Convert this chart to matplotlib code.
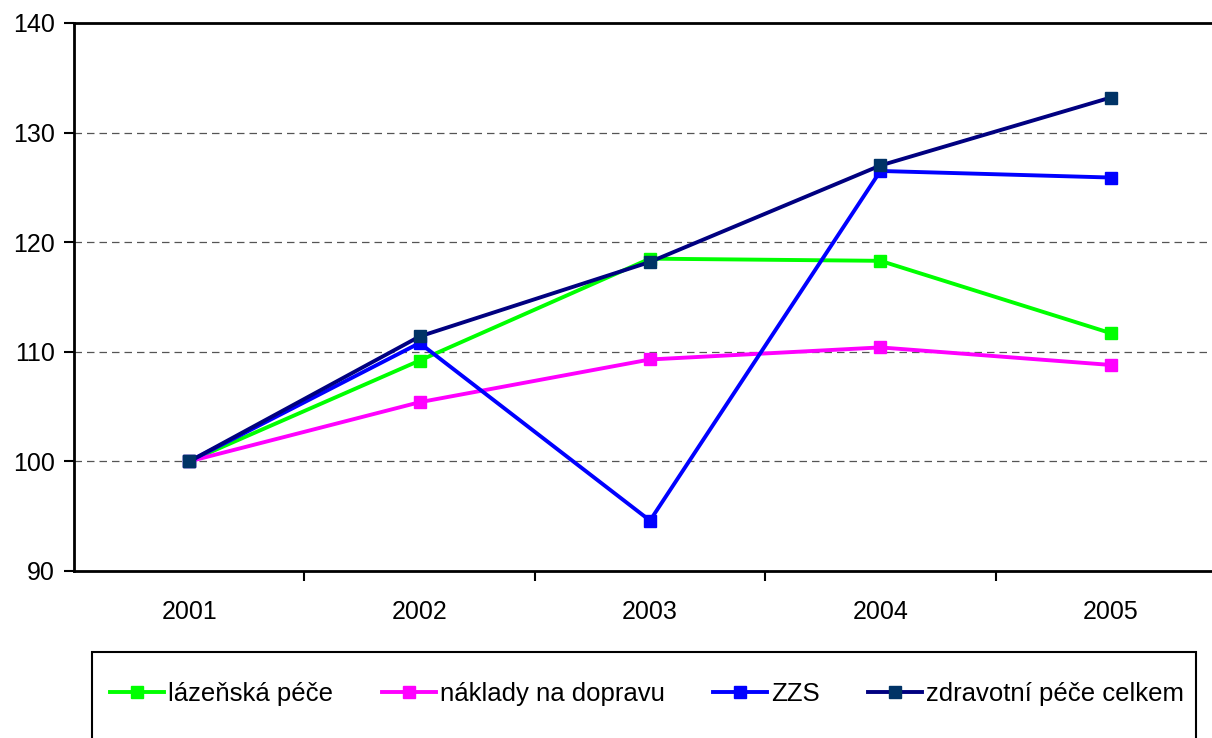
import matplotlib.pyplot as plt
from matplotlib.patches import Rectangle

plt.rcParams['font.family'] = ['Liberation Sans', 'DejaVu Sans']

years = ["2001", "2002", "2003", "2004", "2005"]
lazenska = [100, 109.2, 118.5, 118.3, 111.7]
doprava = [100, 105.4, 109.3, 110.4, 108.8]
zzs = [100, 110.8, 94.6, 126.5, 125.9]
celkem = [100, 111.4, 118.2, 127.0, 133.2]

series = [
    ("lázeňská péče", lazenska, "#00ff00", "#00ff00"),
    ("náklady na dopravu", doprava, "#ff00ff", "#ff00ff"),
    ("ZZS", zzs, "#0000ff", "#0000ff"),
    ("zdravotní péče celkem", celkem, "#000080", "#003366"),
]

fig = plt.figure(figsize=(12.12, 7.38), dpi=100)
ax = fig.add_axes([74 / 1212, 1 - 571 / 738, 1152 / 1212, 548 / 738])

x = range(len(years))
for label, vals, col, mcol in series:
    ax.plot(x, vals, color=col, lw=2.8, marker="s", ms=9,
            mfc=mcol, mec=mcol, label=label, solid_joinstyle="miter")

ax.set_xlim(-0.5, 4.5)
ax.set_ylim(90, 140)
ax.set_yticks(range(90, 141, 10))
ax.set_xticks(list(x))
ax.set_xticklabels(years)
ax.set_xticks([0.5, 1.5, 2.5, 3.5], minor=True)
ax.tick_params(axis="x", which="major", length=0, pad=21, labelsize=18)
ax.tick_params(axis="x", which="minor", length=7, width=1.5, direction="out")
ax.tick_params(axis="y", length=7, width=1.5, labelsize=18, pad=7)

for v in range(100, 140, 10):
    ax.axhline(v, color="#555555", lw=0.9, ls=(0, (6, 4)), zorder=0)

ax.spines["right"].set_visible(False)
for s in ["left", "bottom", "top"]:
    ax.spines[s].set_linewidth(2)

fig.add_artist(Rectangle((92 / 1212, -0.05), 1104 / 1212, 0.05 + 1 - 652 / 738,
                         transform=fig.transFigure, fill=False, ec="black", lw=1.5))

fig.legend(loc="center", bbox_to_anchor=(0.534, 1 - 694 / 738), ncol=4,
           frameon=False, fontsize=18.5, handlelength=2.1, handletextpad=0.15,
           columnspacing=1.9)

fig.savefig("out.png", dpi=100)
